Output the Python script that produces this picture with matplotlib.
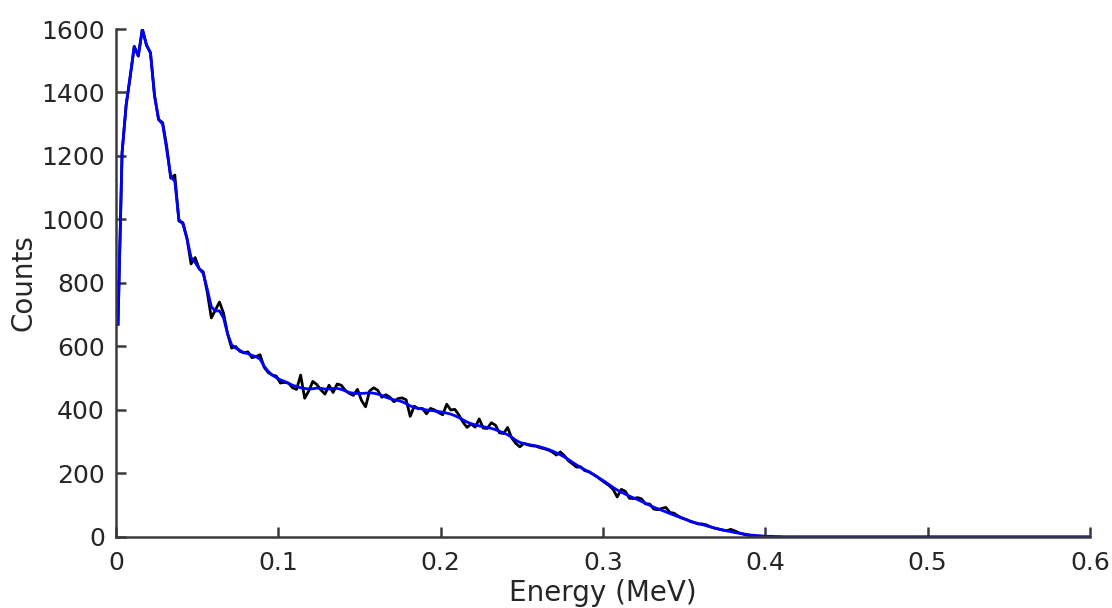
import numpy as np
import matplotlib
matplotlib.use("Agg")
import matplotlib.pyplot as plt

# energy bins: 240 bins of 2.5 keV from 0 to 0.6 MeV
bin_edges = np.linspace(0.0, 0.6, 241)
energy = 0.5 * (bin_edges[:-1] + bin_edges[1:])

# measured spectrum (black)
counts_raw = [
    670, 1210, 1360, 1450, 1545, 1515, 1600, 1550, 1525, 1390,
    1315, 1305, 1230, 1130, 1140, 995, 990, 940, 860, 880,
    845, 835, 770, 690, 715, 740, 705, 640, 595, 600,
    585, 580, 583, 565, 568, 574, 535, 518, 510, 507,
    485, 487, 485, 470, 465, 510, 437, 460, 490, 480,
    463, 450, 478, 455, 482, 478, 462, 452, 446, 465,
    430, 410, 460, 470, 462, 440, 448, 440, 426, 436,
    438, 432, 380, 412, 404, 405, 388, 405, 400, 392,
    385, 418, 400, 402, 384, 362, 345, 356, 346, 372,
    343, 342, 360, 352, 328, 326, 345, 312, 295, 284,
    295, 290, 287, 286, 281, 278, 274, 268, 258, 268,
    256, 240, 230, 220, 221, 209, 206, 198, 190, 180,
    171, 162, 150, 126, 150, 144, 122, 121, 124, 120,
    104, 104, 88, 86, 90, 93, 77, 75, 66, 60,
    55, 49, 45, 41, 41, 38, 32, 28, 25, 22,
    20, 24, 19, 13, 9, 6, 3, 2, 1, 1,
    0, 1, 0, 0, 0, 0, 0, 0, 0, 0,
    0, 0, 0, 0, 0, 0, 0, 0, 0, 0,
    0, 0, 0, 0, 0, 0, 0, 0, 0, 0,
    0, 0, 0, 0, 0, 0, 0, 0, 0, 0,
    0, 0, 0, 0, 0, 0, 0, 0, 0, 0,
    0, 0, 0, 0, 0, 0, 0, 0, 0, 0,
    0, 0, 0, 0, 0, 0, 0, 0, 0, 0,
    0, 0, 0, 0, 0, 0, 0, 0, 0, 0,
]

# smoothed spectrum (blue)
counts_smooth = [
    670, 1210, 1360, 1450, 1545, 1515, 1600, 1550, 1525, 1390,
    1315, 1300, 1220, 1135, 1120, 1000, 985, 940, 880, 865,
    845, 830, 780, 725, 712, 712, 690, 640, 605, 595,
    588, 580, 578, 572, 568, 560, 538, 522, 510, 502,
    495, 490, 484, 478, 474, 470, 468, 466, 467, 469,
    468, 466, 466, 468, 468, 465, 460, 455, 453, 452,
    452, 453, 454, 453, 450, 446, 440, 436, 432, 430,
    426, 420, 413, 408, 405, 403, 400, 399, 397, 395,
    393, 390, 387, 382, 376, 369, 362, 357, 353, 350,
    347, 345, 342, 338, 333, 328, 322, 314, 305, 298,
    294, 292, 289, 287, 284, 280, 276, 271, 265, 259,
    252, 244, 235, 227, 219, 212, 205, 198, 190, 182,
    174, 165, 156, 148, 141, 135, 129, 123, 118, 112,
    106, 100, 94, 89, 84, 79, 74, 69, 64, 59,
    55, 50, 46, 42, 39, 35, 32, 28, 25, 22,
    19, 17, 14, 12, 10, 8, 6, 5, 4, 3,
    2, 2, 1, 1, 0, 0, 0, 0, 0, 0,
    0, 0, 0, 0, 0, 0, 0, 0, 0, 0,
    0, 0, 0, 0, 0, 0, 0, 0, 0, 0,
    0, 0, 0, 0, 0, 0, 0, 0, 0, 0,
    0, 0, 0, 0, 0, 0, 0, 0, 0, 0,
    0, 0, 0, 0, 0, 0, 0, 0, 0, 0,
    0, 0, 0, 0, 0, 0, 0, 0, 0, 0,
    0, 0, 0, 0, 0, 0, 0, 0, 0, 0,
]

x_ticks = [0, 0.1, 0.2, 0.3, 0.4, 0.5, 0.6]
x_tick_labels = ["0", "0.1", "0.2", "0.3", "0.4", "0.5", "0.6"]
y_ticks = [0, 200, 400, 600, 800, 1000, 1200, 1400, 1600]

text_col = "#262626"
axis_col = "#3a3a3a"

fig = plt.figure(figsize=(11.12, 6.08), dpi=100)
ax = fig.add_axes([0.1043, 0.1168, 0.8759, 0.8355])

ax.plot(energy, counts_raw, color="black", lw=2.0)
ax.plot(energy, counts_smooth, color="blue", lw=2.0)

ax.set_xlim(0, 0.6)
ax.set_ylim(0, 1600)
ax.set_xticks(x_ticks)
ax.set_xticklabels(x_tick_labels)
ax.set_yticks(y_ticks)

for side in ["top", "right"]:
    ax.spines[side].set_visible(False)
for side in ["left", "bottom"]:
    ax.spines[side].set_color(axis_col)
    ax.spines[side].set_linewidth(1.8)

ax.tick_params(axis="both", direction="in", length=7, width=1.8,
               color=axis_col, labelsize=18, labelcolor=text_col)
ax.tick_params(axis="y", pad=8)
ax.tick_params(axis="x", pad=10)

ax.set_xlabel("Energy (MeV)", fontsize=20, color=text_col, labelpad=3)
ax.set_ylabel("Counts", fontsize=20, color=text_col, labelpad=3)

fig.savefig("out.png", dpi=100)
